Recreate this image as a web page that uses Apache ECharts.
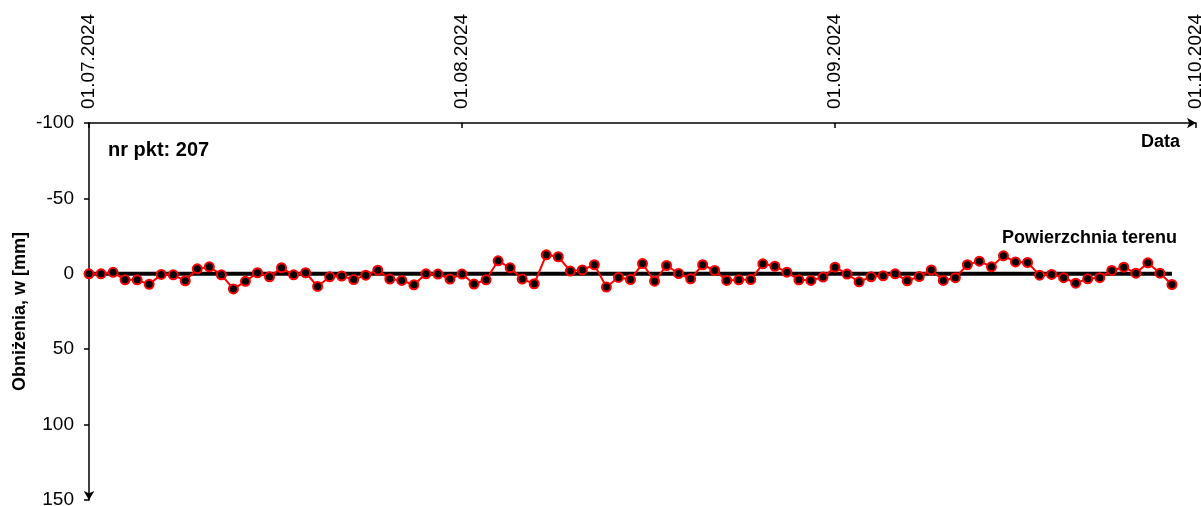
<!DOCTYPE html>
<html>
<head>
<meta charset="utf-8">
<script src="https://cdn.jsdelivr.net/npm/echarts@6/dist/echarts.min.js"></script>
<style>
  html, body { margin: 0; padding: 0; background: #ffffff; }
  #chart { width: 1201px; height: 506px; }
</style>
</head>
<body>
<div id="chart"></div>
<script>
// Daily settlement readings for survey point 207, 01.07.2024 – 29.09.2024
const startDate = [2024, 6, 1];          // year, month (0-based), day
const dayCount = 91;
const settlement = [
  0, 0, -1, 4, 4, 7, 0.4, 0.7, 4.6, -3.3,
  -4.6, 0.7, 10, 5, -0.7, 2, -4, 0.7, -0.7, 8.4,
  2, 1.5, 3.8, 0.9, -2.4, 3.5, 4.4, 7.3, 0, 0.2,
  3.5, 0.2, 6.8, 4, -8.6, -4, 3.5, 6.6, -12.6, -11.3,
  -1.8, -2.6, -6, 8.8, 2.4, 3.8, -6.8, 4.9, -5.5, -0.2,
  3.3, -6, -2.2, 4.4, 4, 3.8, -6.6, -5, -1.1, 4,
  4.4, 2.2, -4.4, 0.2, 5.3, 2, 1.3, 0, 4.6, 1.8,
  -2.6, 4.4, 2.6, -6, -8.4, -4.6, -11.9, -7.9, -7.5, 0.9,
  0.4, 2.6, 6.2, 3.3, 2.6, -2.2, -4.4, -0.4, -7.3, -0.4,
  7.1
];
const tickDates = [[2024, 6, 1], [2024, 7, 1], [2024, 8, 1], [2024, 9, 1]];
const yTicks = { min: -100, max: 150, step: 50 };
const groundLevel = 0;
const pointLabel = 'nr pkt: 207';
const groundLabel = 'Powierzchnia terenu';
const xName = 'Data';
const yName = 'Obniżenia, w [mm]';

// x is measured in days since the start date
const DAY = 86400000;
const t0 = Date.UTC(startDate[0], startDate[1], startDate[2]);
const dayOf = d => Math.round((Date.UTC(d[0], d[1], d[2]) - t0) / DAY);
const seriesData = settlement.map((v, i) => [i, v]);
const groundData = [[0, groundLevel], [dayCount - 1, groundLevel]];
const tickValues = tickDates.map(dayOf);
const pad = n => (n < 10 ? '0' : '') + n;
const fmtDay = v => {
  const d = new Date(t0 + Math.round(v) * DAY);
  return pad(d.getUTCDate()) + '.' + pad(d.getUTCMonth() + 1) + '.' + d.getUTCFullYear();
};

const font = 'Liberation Sans, Arial, sans-serif';
const chart = echarts.init(document.getElementById('chart'), null, { renderer: 'canvas' });
chart.setOption({
  animation: false,
  backgroundColor: '#ffffff',
  grid: { left: 89, top: 123, width: 1107, height: 377, containLabel: false, outerBoundsMode: 'none' },
  xAxis: {
    type: 'value',
    position: 'top',
    min: tickValues[0],
    max: tickValues[tickValues.length - 1],
    axisLine: {
      onZero: false,
      lineStyle: { color: '#000', width: 1.5 },
      symbol: ['none', 'arrow'],
      symbolSize: [8, 9]
    },
    axisTick: { show: true, inside: true, length: 5, customValues: tickValues, lineStyle: { color: '#000', width: 1.5 } },
    axisLabel: {
      customValues: tickValues,
      rotate: -90,
      margin: 14,
      color: '#000',
      fontFamily: font,
      fontSize: 19,
      formatter: v => fmtDay(v),
      hideOverlap: false,
      showMinLabel: true,
      showMaxLabel: true
    },
    splitLine: { show: false }
  },
  yAxis: {
    type: 'value',
    inverse: true,
    min: yTicks.min,
    max: yTicks.max,
    interval: yTicks.step,
    name: yName,
    nameLocation: 'middle',
    nameGap: 60,
    nameMoveOverlap: false,
    nameTextStyle: { color: '#000', fontFamily: font, fontSize: 18, fontWeight: 'bold' },
    axisLine: {
      show: true,
      onZero: false,
      lineStyle: { color: '#000', width: 1.5 },
      symbol: ['arrow', 'none'],
      symbolSize: [8, 9]
    },
    axisTick: { show: true, inside: false, length: 5, lineStyle: { color: '#000', width: 1.5 } },
    axisLabel: { color: '#000', fontFamily: font, fontSize: 19, margin: 15 },
    splitLine: { show: false }
  },
  series: [
    {
      name: groundLabel,
      type: 'line',
      data: groundData,
      symbol: 'none',
      lineStyle: { color: '#000', width: 4 },
      z: 2,
      silent: true
    },
    {
      name: pointLabel,
      type: 'line',
      data: seriesData,
      symbol: 'circle',
      symbolSize: 9,
      showAllSymbol: true,
      lineStyle: { color: '#ff0000', width: 2 },
      itemStyle: { color: '#000', borderColor: '#ff0000', borderWidth: 2 },
      z: 3
    }
  ],
  graphic: [
    { type: 'text', left: 108, top: 140, style: { text: pointLabel, fill: '#000', font: 'bold 20px ' + font } },
    { type: 'text', right: 21, top: 133, style: { text: xName, fill: '#000', font: 'bold 18px ' + font } },
    { type: 'text', right: 24, top: 229, style: { text: groundLabel, fill: '#000', font: 'bold 18px ' + font } }
  ]
});
</script>
</body>
</html>
